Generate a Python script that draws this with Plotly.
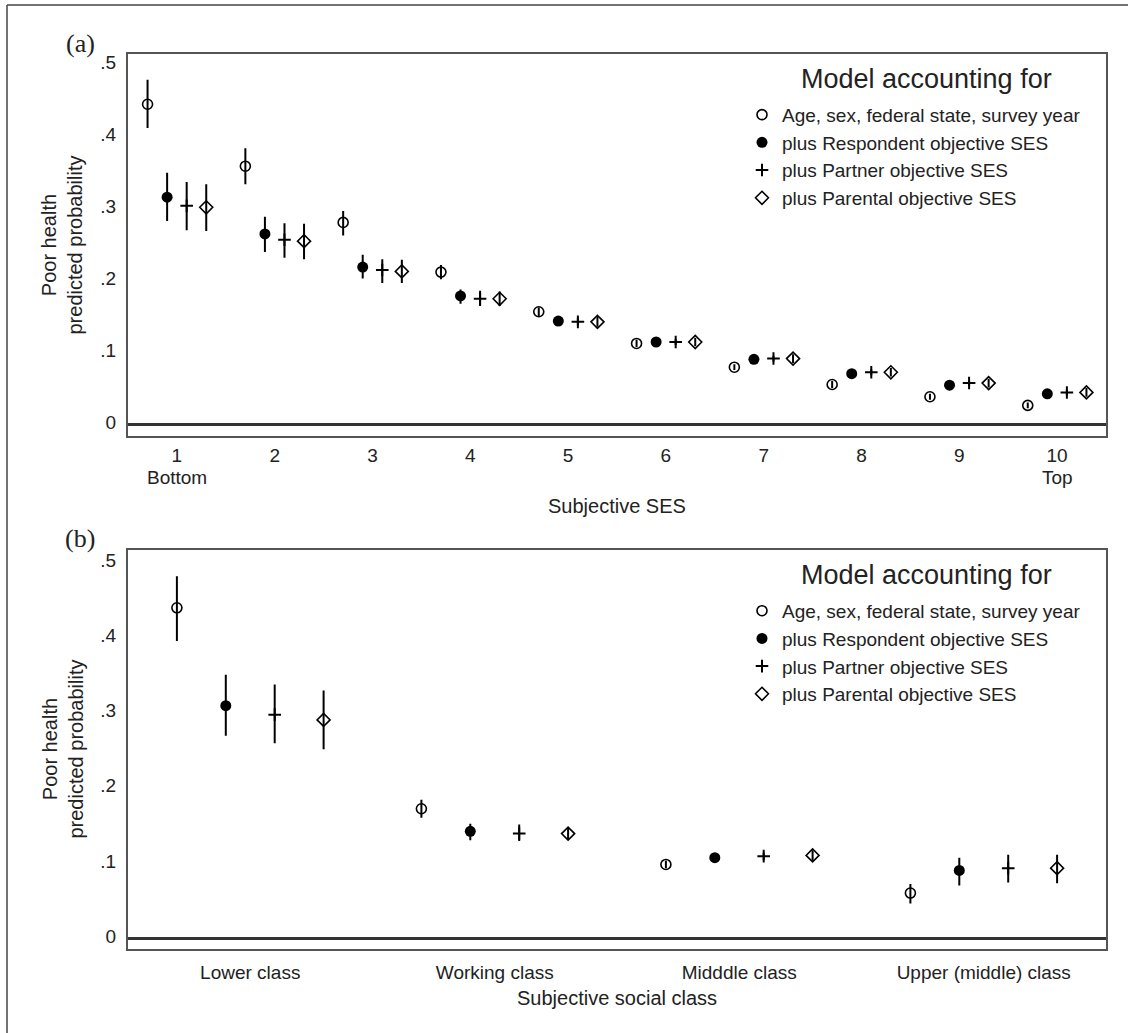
import plotly.graph_objects as go

W, H = 1128, 1033

# ---------------- data ----------------
models = ["Age, sex, federal state, survey year",
          "plus Respondent objective SES",
          "plus Partner objective SES",
          "plus Parental objective SES"]
legend_title = "Model accounting for"

# Panel (a): subjective SES 1..10
ses_levels = [1, 2, 3, 4, 5, 6, 7, 8, 9, 10]
ses_ticktext = ["1", "2", "3", "4", "5", "6", "7", "8", "9", "10"]

a_base     = [0.444, 0.358, 0.280, 0.211, 0.156, 0.112, 0.079, 0.055, 0.038, 0.026]
a_base_lo  = [0.411, 0.333, 0.262, 0.201, 0.150, 0.107, 0.075, 0.050, 0.034, 0.022]
a_base_hi  = [0.478, 0.383, 0.296, 0.221, 0.162, 0.117, 0.083, 0.060, 0.042, 0.030]

a_resp     = [0.315, 0.264, 0.218, 0.178, 0.143, 0.114, 0.090, 0.070, 0.054, 0.042]
a_resp_lo  = [0.282, 0.239, 0.202, 0.167, 0.138, 0.110, 0.086, 0.066, 0.050, 0.038]
a_resp_hi  = [0.349, 0.288, 0.235, 0.187, 0.148, 0.118, 0.094, 0.074, 0.058, 0.046]

a_part     = [0.303, 0.256, 0.214, 0.174, 0.142, 0.114, 0.091, 0.072, 0.057, 0.044]
a_part_lo  = [0.269, 0.231, 0.196, 0.164, 0.137, 0.110, 0.087, 0.068, 0.053, 0.040]
a_part_hi  = [0.336, 0.279, 0.229, 0.185, 0.147, 0.118, 0.095, 0.076, 0.061, 0.048]

a_par      = [0.301, 0.254, 0.212, 0.174, 0.142, 0.114, 0.091, 0.072, 0.057, 0.044]
a_par_lo   = [0.268, 0.229, 0.196, 0.164, 0.135, 0.108, 0.085, 0.066, 0.051, 0.038]
a_par_hi   = [0.333, 0.278, 0.228, 0.184, 0.149, 0.120, 0.097, 0.078, 0.063, 0.050]

# Panel (b): subjective social class
classes = ["Lower class", "Working class", "Midddle class", "Upper (middle) class"]

b_base     = [0.439, 0.172, 0.098, 0.060]
b_base_lo  = [0.395, 0.160, 0.093, 0.046]
b_base_hi  = [0.481, 0.184, 0.103, 0.072]

b_resp     = [0.309, 0.142, 0.107, 0.090]
b_resp_lo  = [0.269, 0.130, 0.103, 0.070]
b_resp_hi  = [0.350, 0.152, 0.111, 0.107]

b_part     = [0.297, 0.139, 0.109, 0.093]
b_part_lo  = [0.259, 0.129, 0.104, 0.074]
b_part_hi  = [0.337, 0.151, 0.114, 0.111]

b_par      = [0.290, 0.139, 0.110, 0.093]
b_par_lo   = [0.251, 0.131, 0.103, 0.073]
b_par_hi   = [0.329, 0.147, 0.117, 0.111]

y_tickvals = [0, 0.1, 0.2, 0.3, 0.4, 0.5]
y_ticktext = ["0", ".1", ".2", ".3", ".4", ".5"]

# ---------------- styling ----------------
FONT = "Liberation Sans, Arial, sans-serif"
SERIF = "Liberation Serif, Times New Roman, serif"
TXT = "#222222"
offsets = [-0.3, -0.1, 0.1, 0.3]
styles = [
    dict(symbol="circle-open", size=10, line=dict(width=1.6, color="black"), color="black"),
    dict(symbol="circle", size=11, line=dict(width=0, color="black"), color="black"),
    dict(symbol="cross-thin-open", size=9, line=dict(width=2, color="black"), color="black"),
    dict(symbol="diamond-open", size=10, line=dict(width=1.6, color="black"), color="black"),
]

def px_x(p):
    return p / W

def px_y(p):
    return 1 - p / H

fig = go.Figure()

def add_panel(xcats, series, xa, ya, legend):
    for k, (vals, lo, hi) in enumerate(series):
        xs = [c + offsets[k] for c in xcats]
        fig.add_trace(go.Scatter(
            x=xs, y=vals, mode="markers", name=models[k],
            marker=styles[k],
            error_y=dict(type="data", symmetric=False,
                         array=[h - v for h, v in zip(hi, vals)],
                         arrayminus=[v - l for l, v in zip(lo, vals)],
                         width=0, thickness=2, color="black"),
            xaxis=xa, yaxis=ya, legend=legend, showlegend=True,
            cliponaxis=False,
        ))

add_panel(ses_levels,
          [(a_base, a_base_lo, a_base_hi), (a_resp, a_resp_lo, a_resp_hi),
           (a_part, a_part_lo, a_part_hi), (a_par, a_par_lo, a_par_hi)],
          "x", "y", "legend")
class_pos = list(range(1, len(classes) + 1))
add_panel(class_pos,
          [(b_base, b_base_lo, b_base_hi), (b_resp, b_resp_lo, b_resp_hi),
           (b_part, b_part_lo, b_part_hi), (b_par, b_par_lo, b_par_hi)],
          "x2", "y2", "legend2")

frame = dict(showline=True, mirror=True, linecolor="#555555", linewidth=2,
             showgrid=False, ticks="", tickfont=dict(family=FONT, size=19, color=TXT))

x_dom = [px_x(128), px_x(1106)]
leg_common = dict(xanchor="left", yanchor="top", bgcolor="rgba(0,0,0,0)",
                  font=dict(family=FONT, size=19, color=TXT), tracegroupgap=0, itemwidth=30)
fig.update_layout(
    width=W, height=H, margin=dict(l=0, r=0, t=0, b=0),
    paper_bgcolor="white", plot_bgcolor="white",
    font=dict(family=FONT, color=TXT),
    xaxis=dict(domain=x_dom, range=[0.5, 10.5], tickvals=ses_levels, ticktext=ses_ticktext,
               zeroline=False, anchor="y", ticklabelstandoff=1, **frame),
    yaxis=dict(domain=[px_y(435), px_y(52)], range=[-0.0167, 0.5139],
               tickvals=y_tickvals, ticktext=y_ticktext, zeroline=True,
               zerolinecolor="#333333", zerolinewidth=2.5, anchor="x",
               ticklabelstandoff=6, ticklabelshift=-2, **frame),
    xaxis2=dict(domain=x_dom, range=[0.5, 4.5], tickvals=class_pos, ticktext=classes,
                zeroline=False, anchor="y2", ticklabelstandoff=5, **frame),
    yaxis2=dict(domain=[px_y(949), px_y(549)], range=[-0.0146, 0.5159],
                tickvals=y_tickvals, ticktext=y_ticktext, zeroline=True,
                zerolinecolor="#333333", zerolinewidth=2.5, anchor="x2",
                ticklabelstandoff=6, ticklabelshift=-2, **frame),
    legend=dict(x=px_x(742), y=px_y(94), **leg_common),
    legend2=dict(x=px_x(742), y=px_y(591), **leg_common),
    showlegend=True,
)

def txt(text, x, y, size, family=FONT, angle=0, xref="paper"):
    return dict(text=text, x=x, y=y, xref=xref, yref="paper", showarrow=False,
                xanchor="center", yanchor="middle", textangle=angle,
                font=dict(family=family, size=size, color=TXT))

ann = [
    txt("(a)", px_x(80), px_y(42), 26, SERIF),
    txt("(b)", px_x(80), px_y(538), 26, SERIF),
    txt("Poor health<br>predicted probability", px_x(62), px_y(244), 20, angle=-90),
    txt("Poor health<br>predicted probability", px_x(63), px_y(749), 20, angle=-90),
    txt("Subjective SES", px_x(617), px_y(505), 20),
    txt("Subjective social class", px_x(617), px_y(998), 20),
    txt("Bottom", ses_levels[0], px_y(476), 19, xref="x"),
    txt("Top", ses_levels[-1], px_y(476), 19, xref="x"),
    txt(legend_title, px_x(926), px_y(77), 27),
    txt(legend_title, px_x(926), px_y(574), 27),
]
fig.update_layout(annotations=ann)

# outer border (cropped frame: top and left edges)
fig.add_shape(type="line", xref="paper", yref="paper", x0=px_x(7), x1=1, y0=px_y(3), y1=px_y(3),
              line=dict(color="#444444", width=1.5))
fig.add_shape(type="line", xref="paper", yref="paper", x0=px_x(7), x1=px_x(7), y0=0, y1=px_y(3),
              line=dict(color="#444444", width=1.5))

fig.write_html(
    "out.html", config={"displayModeBar": False},
    post_script=("document.body.style.margin='0';document.body.style.overflow='hidden';"
                 "var d=document.getElementById('{plot_id}');"
                 "d.style.position='fixed';d.style.left='0px';d.style.top='0px';"),
)
